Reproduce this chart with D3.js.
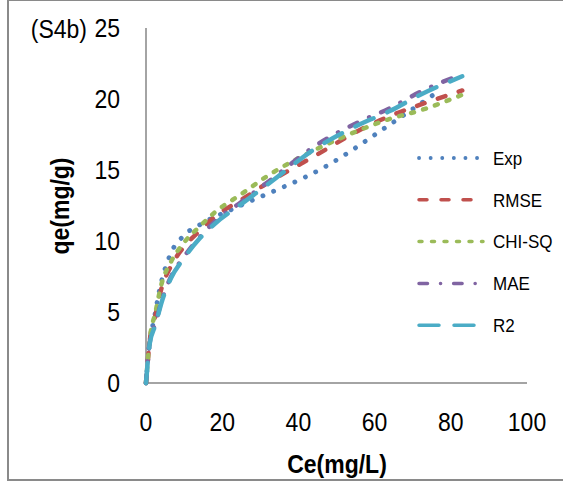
<!DOCTYPE html>
<html>
<head>
<meta charset="utf-8">
<script src="https://cdn.jsdelivr.net/npm/d3@7"></script>
<style>
  html, body { margin: 0; padding: 0; background: #fff; }
  svg text { font-family: "Liberation Sans", Arial, sans-serif; fill: #000; }
</style>
</head>
<body>
<div id="chart"></div>
<script>
// experimental points
const expCe = [0, 0.8, 2.2, 3.5, 6.3, 10, 14.5, 24, 47.5, 64, 76];
const expQe = [0, 2.5, 4.6, 6.5, 9.0, 10.4, 11.2, 12.4, 15.3, 18.2, 20.4];

// model curves (same Ce grid)
const modelCe = [0, 1, 2.5, 4, 6.5, 10, 14, 18, 25, 32, 45, 56, 64, 72, 83];
const rmseQe  = [0, 3.0, 4.8, 6.6, 8.2, 9.6, 10.7, 11.7, 12.9, 14.1, 16.1, 17.8, 18.8, 19.6, 20.6];
const chiQe   = [0, 3.1, 5.0, 6.9, 8.5, 9.9, 11.0, 12.0, 13.3, 14.6, 16.5, 17.8, 18.6, 19.2, 20.3];
const maeQe   = [0, 2.9, 4.2, 5.7, 7.45, 8.9, 10.25, 11.35, 12.75, 14.15, 16.8, 18.4, 19.35, 20.5, 21.75];
const r2Qe    = [0, 2.8, 4.1, 5.6, 7.35, 8.8, 10.15, 11.2, 12.6, 14.0, 16.6, 18.2, 19.15, 20.3, 21.6];

const xTicks = [0, 20, 40, 60, 80, 100];
const yTicks = [0, 5, 10, 15, 20, 25];

const width = 563;
const height = 487;

const svg = d3.select("#chart").append("svg")
  .attr("width", width)
  .attr("height", height);

// outer frame
svg.append("rect")
  .attr("x", 8).attr("y", 0)
  .attr("width", 600).attr("height", 480)
  .attr("fill", "none")
  .attr("stroke", "#8a8a8a")
  .attr("stroke-width", 2);

const x = d3.scaleLinear().domain([0, 100]).range([146, 527]);
const y = d3.scaleLinear().domain([0, 25]).range([383, 28]);

// axes lines
svg.append("line")
  .attr("x1", x(0)).attr("x2", x(100))
  .attr("y1", y(0)).attr("y2", y(0))
  .attr("stroke", "#868686").attr("stroke-width", 1.5);
svg.append("line")
  .attr("x1", x(0)).attr("x2", x(0))
  .attr("y1", y(0)).attr("y2", y(25))
  .attr("stroke", "#868686").attr("stroke-width", 1.5);

// tick labels (slightly tall glyphs like the original)
svg.selectAll(".ytick").data(yTicks).enter().append("text")
  .attr("transform", d => `translate(120,${y(d)}) scale(1,1.1)`)
  .attr("dy", "0.36em")
  .attr("text-anchor", "end")
  .style("font-size", "23px")
  .text(d => d);

svg.selectAll(".xtick").data(xTicks).enter().append("text")
  .attr("transform", d => `translate(${x(d)},422) scale(1,1.1)`)
  .attr("dy", "0.36em")
  .attr("text-anchor", "middle")
  .style("font-size", "23px")
  .text(d => d);

svg.append("text")
  .attr("transform", "translate(87,29) scale(1,1.1)")
  .attr("dy", "0.36em")
  .attr("text-anchor", "end")
  .style("font-size", "23px")
  .text("(S4b)");

// axis titles
svg.append("text")
  .attr("transform", "translate(337,464) scale(1,1.1)")
  .attr("dy", "0.36em")
  .attr("text-anchor", "middle")
  .style("font-size", "23px")
  .style("font-weight", "bold")
  .text("Ce(mg/L)");

svg.append("text")
  .attr("transform", "translate(60,206) rotate(-90) scale(1,1.1)")
  .attr("dy", "0.36em")
  .attr("text-anchor", "middle")
  .style("font-size", "23px")
  .style("font-weight", "bold")
  .text("qe(mg/g)");

const series = [
  { name: "Exp",    ce: expCe,   qe: expQe,  color: "#4F81BD", dash: "0.1 11.5", w: 4.8 },
  { name: "RMSE",   ce: modelCe, qe: rmseQe, color: "#C0504D", dash: "8 14",     w: 4.5 },
  { name: "CHI-SQ", ce: modelCe, qe: chiQe,  color: "#9BBB59", dash: "3 9.5",    w: 4.5 },
  { name: "MAE",    ce: modelCe, qe: maeQe,  color: "#8064A2", dash: "8.5 13 0.1 13", w: 4.5 },
  { name: "R2",     ce: modelCe, qe: r2Qe,   color: "#4BACC6", dash: "20 15",    w: 4.5 }
];

const line = d3.line()
  .x(d => x(d[0]))
  .y(d => y(d[1]))
  .curve(d3.curveMonotoneX);

series.forEach(s => {
  const pts = s.ce.map((c, i) => [c, s.qe[i]]);
  svg.append("path")
    .attr("d", line(pts))
    .attr("fill", "none")
    .attr("stroke", s.color)
    .attr("stroke-width", s.w)
    .attr("stroke-linecap", "round")
    .attr("stroke-dasharray", s.dash);
});

// legend
series.forEach((s, i) => {
  const ly = 158 + i * 41.8;
  svg.append("line")
    .attr("x1", 419).attr("x2", 483)
    .attr("y1", ly).attr("y2", ly)
    .attr("stroke", s.color)
    .attr("stroke-width", s.w - 1)
    .attr("stroke-linecap", "round")
    .attr("stroke-dasharray", s.dash);
  svg.append("text")
    .attr("transform", `translate(493,${ly}) scale(1,1.1)`)
    .attr("dy", "0.36em")
    .style("font-size", "17px")
    .text(s.name);
});
</script>
</body>
</html>
